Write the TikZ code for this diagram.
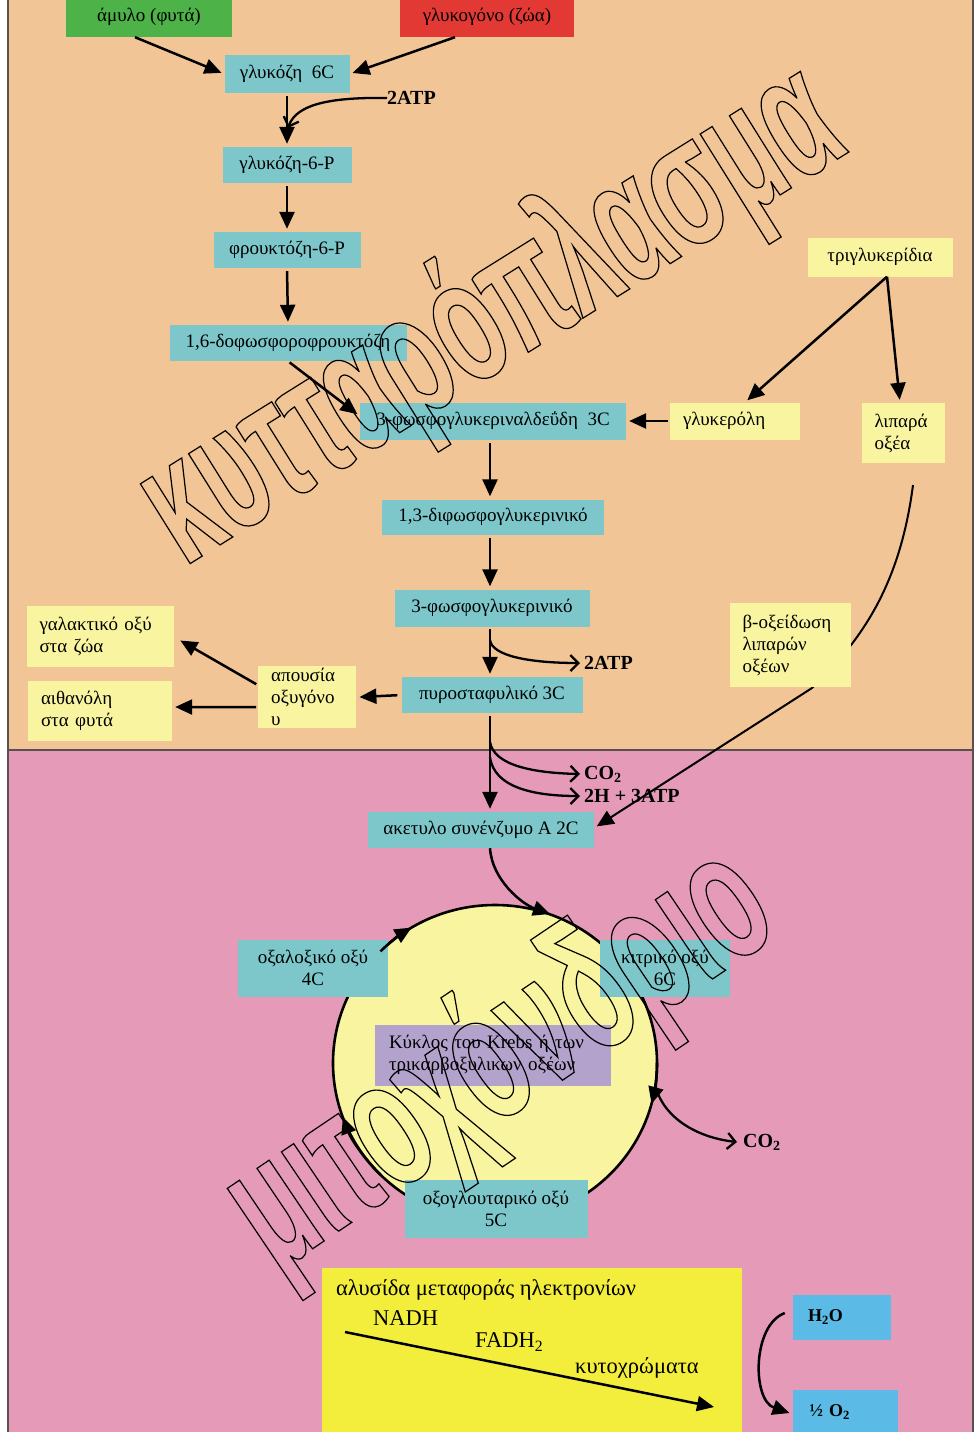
\documentclass[tikz,border=0pt]{standalone}
\usepackage{fontspec}
\setmainfont{Liberation Serif}
\newfontfamily\wmfont[FakeStretch=0.58]{Liberation Sans Bold}
\usetikzlibrary{arrows.meta,calc}
\definecolor{bgor}{RGB}{242,197,150}
\definecolor{bgpk}{RGB}{229,155,184}
\definecolor{tealb}{RGB}{125,199,203}
\definecolor{paley}{RGB}{249,244,160}
\definecolor{brighty}{RGB}{243,238,60}
\definecolor{greenb}{RGB}{77,178,71}
\definecolor{redb}{RGB}{227,57,53}
\definecolor{purpb}{RGB}{178,162,204}
\definecolor{blueb}{RGB}{92,186,230}
\definecolor{framec}{RGB}{90,80,80}
\newcommand\outlA[1]{\special{pdf:literal direct 1 Tr 1.2 w}#1\special{pdf:literal direct 0 Tr}}
\pgfdeclarelayer{bg}\pgfdeclarelayer{mid}
\pgfsetlayers{bg,mid,main}
\begin{document}
\begin{tikzpicture}[x=1pt,y=-1pt,
  box/.style={rectangle,inner sep=0pt,font=\fontsize{19}{22}\selectfont},
  tbox/.style={box,fill=tealb},
  ybox/.style={box,fill=paley},
  lbox/.style={inner xsep=13pt,inner ysep=0pt,align=left},
  arr/.style={line width=2.5pt,-{Triangle[length=17pt,width=15pt]},shorten >=3pt},
  barb/.style={line width=2.3pt,-{Straight Barb[length=8pt,width=16pt,line width=2.3pt]}},
  lbl/.style={font=\bfseries\fontsize{20}{22}\selectfont,inner sep=0pt,anchor=west},
  plain/.style={font=\fontsize{22.5}{26}\selectfont,inner sep=0pt,anchor=west},
  wm/.style={inner sep=0pt,font=\wmfont\fontsize{178}{178}\selectfont}]
\useasboundingbox (0,0) rectangle (978,1432);
\begin{pgfonlayer}{bg}
  \fill[white] (0,0) rectangle (978,1432);
  \fill[bgor] (8,0) rectangle (973,750);
  \fill[bgpk] (8,750) rectangle (973,1432);
  \draw[framec,line width=1.5pt] (8,0) -- (8,1432);
  \draw[framec,line width=1.5pt] (973,0) -- (973,1432);
  \draw[framec,line width=1.5pt] (8,750) -- (973,750);
\end{pgfonlayer}

% ---------- cytoplasm nodes
\node[box,fill=greenb,minimum width=166pt,minimum height=40pt] (amylo) at (149,17) {άμυλο (φυτά)};
\node[box,fill=redb,minimum width=174pt,minimum height=40pt] (glyk) at (487,17) {γλυκογόνο (ζώα)};
\node[tbox,minimum width=125pt,minimum height=38pt] (glc) at (287,74) {γλυκόζη\ \ 6C};
\node[tbox,minimum width=129pt,minimum height=36pt] (g6p) at (287,165) {γλυκόζη-6-P};
\node[tbox,minimum width=147pt,minimum height=36pt] (f6p) at (287,250) {φρουκτόζη-6-P};
\node[tbox,minimum width=237pt,minimum height=36pt] (f16) at (288,343) {1,6-δοφωσφοροφρουκτόζη};
\node[tbox,minimum width=266pt,minimum height=37pt] (g3p) at (493,421) {3-φωσφογλυκεριναλδεΰδη\ \ 3C};
\node[ybox,lbox,text width=104pt,minimum height=37pt] (glyc) at (735,421) {γλυκερόλη};
\node[ybox,minimum width=145pt,minimum height=39pt] (trig) at (880,257) {τριγλυκερίδια};
\node[ybox,lbox,text width=57pt,minimum height=60pt] (lip) at (903,433) {λιπαρά\\οξέα};
\node[tbox,minimum width=222pt,minimum height=35pt] (bpg) at (493,517) {1,3-διφωσφογλυκερινικό};
\node[tbox,minimum width=195pt,minimum height=37pt] (pg3) at (492,608) {3-φωσφογλυκερινικό};
\node[tbox,minimum width=181pt,minimum height=36pt] (pyr) at (492,695) {πυροσταφυλικό 3C};
\node[ybox,lbox,text width=72pt,minimum height=62pt,anchor=north west] (apo) at (258,666) {απουσία\\οξυγόνο\\υ};
\node[ybox,lbox,text width=121pt,minimum height=61pt] (gal) at (100,636) {γαλακτικό οξύ\\στα ζώα};
\node[ybox,lbox,text width=118pt,minimum height=60pt] (ait) at (100,711) {αιθανόλη\\στα φυτά};
\node[ybox,lbox,text width=95pt,minimum height=84pt] (box) at (790,645) {β-οξείδωση\\λιπαρών\\οξέων};

% ---------- mitochondrion nodes
\node[tbox,minimum width=226pt,minimum height=36pt] (acc) at (481,830) {ακετυλο συνένζυμο Α 2C};
\fill[paley,draw=black,line width=2.6pt] (495,1063) ellipse [x radius=162, y radius=158];
\node[tbox,align=center,minimum width=150pt,minimum height=57pt] (oxal) at (313,968) {οξαλοξικό οξύ\\4C};
\node[tbox,align=center,minimum width=130pt,minimum height=57pt] (cit) at (665,968) {κιτρικό οξύ\\6C};
\node[box,fill=purpb,lbox,inner xsep=14pt,text width=208pt,minimum height=61pt] (krebs) at (493,1055) {Κύκλος του Krebs ή των\\τρικαρβοξυλικων οξέων};
\node[tbox,align=center,minimum width=183pt,minimum height=58pt] (oxog) at (496,1209) {οξογλουταρικό οξύ\\5C};
\node[box,fill=brighty,minimum width=420pt,minimum height=170pt,anchor=north west] (etc) at (322,1268) {};
\node[box,fill=blueb,lbox,inner xsep=15pt,text width=68pt,minimum height=45pt,font=\bfseries\fontsize{18}{20}\selectfont] (h2o) at (842,1317) {H\textsubscript{2}O};
\node[box,fill=blueb,lbox,inner xsep=17pt,text width=71pt,minimum height=45pt,font=\bfseries\fontsize{18}{20}\selectfont] (half) at (845,1412) {½ O\textsubscript{2}};

% ---------- labels
\node[lbl] (atp1) at (387,98) {2ATP};
\node[lbl] (atp2) at (584,663) {2ATP};
\node[lbl] (co2a) at (584,774) {CO\textsubscript{2}};
\node[lbl] (h3atp) at (584,796) {2H + 3ATP};
\node[lbl] (co2b) at (743,1142) {CO\textsubscript{2}};
\node[plain] (etct) at (336,1290) {αλυσίδα μεταφοράς ηλεκτρονίων};
\node[plain] (nadh) at (373,1318) {NADH};
\node[plain] (fadh) at (475,1342) {FADH\textsubscript{2}};
\node[plain] (cyt) at (575,1368) {κυτοχρώματα};

% ---------- connectors
\draw[arr] ([xshift=-14pt]amylo.south) -- (glc.west);
\draw[arr] ([xshift=-32pt]glyk.south) -- (glc.east);
\draw[arr,shorten <=3pt] (glc.south) -- (g6p.north);
\coordinate (j1) at (288,128);
\draw[barb] (atp1.west) .. controls (325,97) and (296,106) .. (j1);
\draw[arr,shorten <=3pt] (g6p.south) -- (f6p.north);
\draw[arr,shorten <=3pt] (f6p.south) -- (f16.north);
\draw[arr,shorten <=2pt] (f16.south) -- ([yshift=5pt]g3p.west);
\draw[arr,shorten <=2pt] (glyc.west) -- (g3p.east);
\draw[arr] ([xshift=7pt]trig.south) -- ([xshift=10pt]glyc.north);
\draw[arr] ([xshift=7pt]trig.south) -- ([xshift=-3pt]lip.north);
\draw[arr,shorten <=3pt] ([xshift=-3pt]g3p.south) -- ([xshift=-3pt]bpg.north);
\draw[arr,shorten <=3pt] ([xshift=-3pt]bpg.south) -- ([xshift=-2pt]pg3.north);
\draw[arr,shorten <=2pt] ([xshift=-2pt]pg3.south) -- ([xshift=-2pt]pyr.north);
\coordinate (j2) at (490,640);
\draw[barb] (j2) .. controls (492,656) and (530,663) .. ([xshift=-4pt]atp2.west);
\draw[arr,shorten <=4pt] (pyr.west) -- (apo.east);
\draw[arr,shorten <=2pt] ([yshift=12pt]apo.west) -- ([xshift=4pt,yshift=-3pt]gal.east);
\draw[arr,shorten <=2pt] ([yshift=-10pt]apo.west) -- ([yshift=4pt]ait.east);
\draw[arr,shorten <=3pt] ([xshift=-2pt]pyr.south) -- ([xshift=-2pt]pyr.south |- acc.north);
\coordinate (j3) at (490,742);
\coordinate (j4) at (490,757);
\draw[barb] (j3) .. controls (494,766) and (535,773) .. ([xshift=-4pt]co2a.west);
\draw[barb] (j4) .. controls (494,788) and (535,796) .. ([xshift=-4pt]h3atp.west);
\begin{pgfonlayer}{mid}
  \coordinate (lipb) at (913,485);
  \draw[arr,line width=2pt] (lipb) .. controls (900,585) and (862,640) .. (812,688) -- ([yshift=2pt]acc.east);
\end{pgfonlayer}
% Krebs cycle arrows
\coordinate (cin) at (550,914);
\draw[arr,shorten >=0pt] ([xshift=9pt]acc.south) .. controls (492,880) and (522,904) .. (cin);
\draw[line width=2.6pt,-{Triangle[length=17pt,width=15pt]}] (380.5,951.3) arc[start angle=-135,end angle=-121,x radius=162,y radius=158];
\draw[line width=2.6pt,-{Triangle[length=17pt,width=15pt]}] (657,1063) arc[start angle=0,end angle=15,x radius=162,y radius=158];
\draw[line width=2.6pt,-{Triangle[length=17pt,width=15pt]}] (380.5,1174.7) arc[start angle=135,end angle=160,x radius=162,y radius=158];
\coordinate (cout) at (655,1085);
\draw[barb] (cout) .. controls (664,1120) and (700,1138) .. ([xshift=-6pt]co2b.west);
% electron transport chain
\coordinate (e1) at (345,1332);
\coordinate (e2) at (714,1407);
\draw[arr,shorten >=0pt] (e1) -- (e2);
\draw[arr] ([xshift=-8pt,yshift=4pt]h2o.west) .. controls (752,1325) and (752,1400) .. ([yshift=-2pt]half.west);

% ---------- watermarks
\node[wm,rotate=32] (wm1) at (492,318) {\outlA{κυτταρόπλασμα}};
\node[wm,rotate=34,font=\wmfont\fontsize{185}{185}\selectfont] (wm2) at (502,1062) {\outlA{μιτοχόνδριο}};
\end{tikzpicture}
\end{document}
